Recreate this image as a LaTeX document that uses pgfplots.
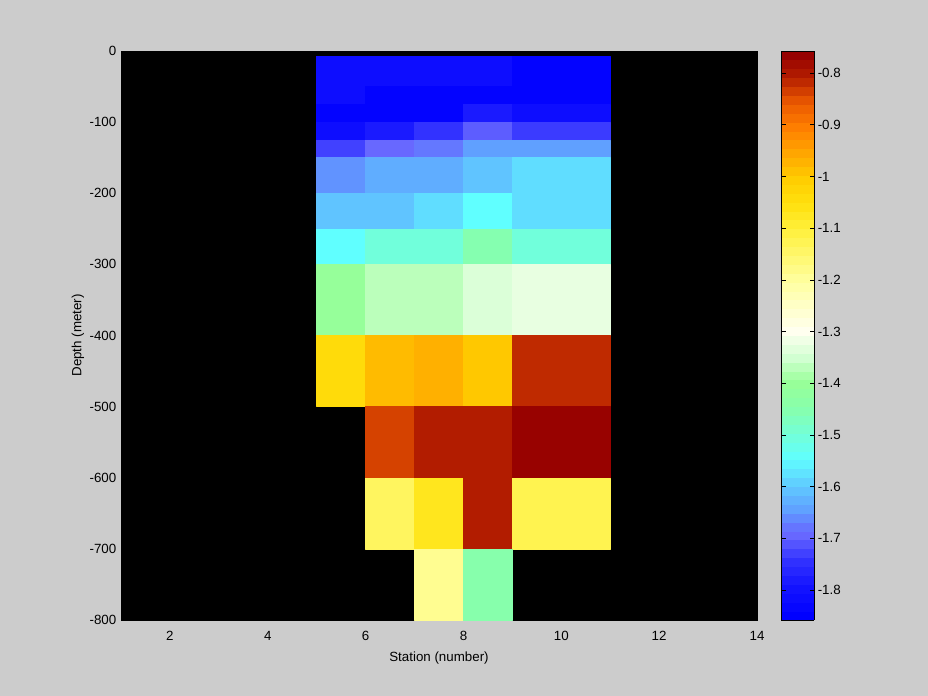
\documentclass[border=0pt]{standalone}
\usepackage{fontspec}
\setmainfont{Liberation Sans}
\usepackage{pgfplots}
\pgfplotsset{compat=1.18}
\definecolor{figbg}{RGB}{204,204,204}

\pgfplotsset{
  colormap={salt}{
    rgb255(0pt)=(0,0,255); rgb255(58pt)=(20,20,255); rgb255(108pt)=(50,50,255);
    rgb255(158pt)=(104,104,255); rgb255(178pt)=(100,120,255); rgb255(208pt)=(96,160,255);
    rgb255(258pt)=(96,205,255); rgb255(308pt)=(96,255,255); rgb255(358pt)=(115,255,215);
    rgb255(408pt)=(135,255,172); rgb255(458pt)=(152,255,152); rgb255(508pt)=(210,255,210);
    rgb255(558pt)=(255,255,240); rgb255(658pt)=(255,255,160); rgb255(758pt)=(255,240,60);
    rgb255(808pt)=(255,225,15); rgb255(858pt)=(255,205,0); rgb255(958pt)=(255,128,0);
    rgb255(1008pt)=(235,90,0); rgb255(1058pt)=(180,30,0); rgb255(1101pt)=(150,0,0)
  },
  colormap={saltbar}{samples of colormap=(64 of salt)},
}

\begin{document}
\begin{tikzpicture}
\fill[figbg] (0,0) rectangle (696pt,522pt);
\begin{axis}[
  at={(90.75pt,57pt)}, anchor=south west,
  scale only axis, width=477pt, height=426.75pt,
  xmin=1, xmax=14, ymin=-800, ymax=0,
  xtick={2,4,...,14}, ytick={-800,-700,...,0},
  axis background/.style={fill=black},
  axis line style={black}, major tick length=0pt,
  /pgf/number format/assume math mode=true,
  tick label style={font=\normalsize},
  xticklabel style={yshift=-5pt},
  every axis x label/.style={at={(axis description cs:0.5,0)}, anchor=center, yshift=-28.5pt},
  every axis y label/.style={at={(axis description cs:-0.0676,0.5)}, anchor=center, rotate=90},
  xlabel={Station (number)},
  ylabel={Depth (meter)},
  colormap name=salt,
  point meta min=-1.858, point meta max=-0.757,
  colorbar,
  colorbar style={
    at={(parent axis.south east)}, anchor=south west, xshift=9.75pt,
    scale only axis, width=24.75pt, height=426.75pt,
    colormap name=saltbar, colormap access=piecewise constant,
    ytick={-1.8,-1.7,-1.6,-1.5,-1.4,-1.3,-1.2,-1.1,-1,-0.9,-0.8},
    ytick pos=both, yticklabel pos=right,
    tick align=inside, major tick length=3.5pt,
    tick style={black, line width=0.6pt},
    axis line style={black, line width=0.6pt},
    yticklabel style={font=\normalsize, xshift=-1pt},
    /pgf/number format/assume math mode=true,
  },
]
\addplot[patch, patch type=rectangle, shader=faceted, faceted color=mapped color,
  line width=0.3pt, point meta=explicit] coordinates {
(5,-7)[-1.82] (6,-7)[-1.82] (6,-50)[-1.82] (5,-50)[-1.82]
(6,-7)[-1.82] (7,-7)[-1.82] (7,-50)[-1.82] (6,-50)[-1.82]
(7,-7)[-1.82] (8,-7)[-1.82] (8,-50)[-1.82] (7,-50)[-1.82]
(8,-7)[-1.82] (9,-7)[-1.82] (9,-50)[-1.82] (8,-50)[-1.82]
(9,-7)[-1.85] (11,-7)[-1.85] (11,-50)[-1.85] (9,-50)[-1.85]
(5,-50)[-1.82] (6,-50)[-1.82] (6,-75)[-1.82] (5,-75)[-1.82]
(6,-50)[-1.85] (7,-50)[-1.85] (7,-75)[-1.85] (6,-75)[-1.85]
(7,-50)[-1.85] (8,-50)[-1.85] (8,-75)[-1.85] (7,-75)[-1.85]
(8,-50)[-1.85] (9,-50)[-1.85] (9,-75)[-1.85] (8,-75)[-1.85]
(9,-50)[-1.85] (11,-50)[-1.85] (11,-75)[-1.85] (9,-75)[-1.85]
(5,-75)[-1.85] (6,-75)[-1.85] (6,-100)[-1.85] (5,-100)[-1.85]
(6,-75)[-1.85] (7,-75)[-1.85] (7,-100)[-1.85] (6,-100)[-1.85]
(7,-75)[-1.85] (8,-75)[-1.85] (8,-100)[-1.85] (7,-100)[-1.85]
(8,-75)[-1.79] (9,-75)[-1.79] (9,-100)[-1.79] (8,-100)[-1.79]
(9,-75)[-1.82] (11,-75)[-1.82] (11,-100)[-1.82] (9,-100)[-1.82]
(5,-100)[-1.82] (6,-100)[-1.82] (6,-125)[-1.82] (5,-125)[-1.82]
(6,-100)[-1.79] (7,-100)[-1.79] (7,-125)[-1.79] (6,-125)[-1.79]
(7,-100)[-1.75] (8,-100)[-1.75] (8,-125)[-1.75] (7,-125)[-1.75]
(8,-100)[-1.71] (9,-100)[-1.71] (9,-125)[-1.71] (8,-125)[-1.71]
(9,-100)[-1.742] (11,-100)[-1.742] (11,-125)[-1.742] (9,-125)[-1.742]
(5,-125)[-1.736] (6,-125)[-1.736] (6,-150)[-1.736] (5,-150)[-1.736]
(6,-125)[-1.70] (7,-125)[-1.70] (7,-150)[-1.70] (6,-150)[-1.70]
(7,-125)[-1.68] (8,-125)[-1.68] (8,-150)[-1.68] (7,-150)[-1.68]
(8,-125)[-1.65] (9,-125)[-1.65] (9,-150)[-1.65] (8,-150)[-1.65]
(9,-125)[-1.65] (11,-125)[-1.65] (11,-150)[-1.65] (9,-150)[-1.65]
(5,-150)[-1.66] (6,-150)[-1.66] (6,-200)[-1.66] (5,-200)[-1.66]
(6,-150)[-1.635] (7,-150)[-1.635] (7,-200)[-1.635] (6,-200)[-1.635]
(7,-150)[-1.635] (8,-150)[-1.635] (8,-200)[-1.635] (7,-200)[-1.635]
(8,-150)[-1.61] (9,-150)[-1.61] (9,-200)[-1.61] (8,-200)[-1.61]
(9,-150)[-1.584] (11,-150)[-1.584] (11,-200)[-1.584] (9,-200)[-1.584]
(5,-200)[-1.61] (6,-200)[-1.61] (6,-250)[-1.61] (5,-250)[-1.61]
(6,-200)[-1.61] (7,-200)[-1.61] (7,-250)[-1.61] (6,-250)[-1.61]
(7,-200)[-1.584] (8,-200)[-1.584] (8,-250)[-1.584] (7,-250)[-1.584]
(8,-200)[-1.55] (9,-200)[-1.55] (9,-250)[-1.55] (8,-250)[-1.55]
(9,-200)[-1.584] (11,-200)[-1.584] (11,-250)[-1.584] (9,-250)[-1.584]
(5,-250)[-1.55] (6,-250)[-1.55] (6,-300)[-1.55] (5,-300)[-1.55]
(6,-250)[-1.505] (7,-250)[-1.505] (7,-300)[-1.505] (6,-300)[-1.505]
(7,-250)[-1.505] (8,-250)[-1.505] (8,-300)[-1.505] (7,-300)[-1.505]
(8,-250)[-1.455] (9,-250)[-1.455] (9,-300)[-1.455] (8,-300)[-1.455]
(9,-250)[-1.505] (11,-250)[-1.505] (11,-300)[-1.505] (9,-300)[-1.505]
(5,-300)[-1.405] (6,-300)[-1.405] (6,-400)[-1.405] (5,-400)[-1.405]
(6,-300)[-1.37] (7,-300)[-1.37] (7,-400)[-1.37] (6,-400)[-1.37]
(7,-300)[-1.37] (8,-300)[-1.37] (8,-400)[-1.37] (7,-400)[-1.37]
(8,-300)[-1.34] (9,-300)[-1.34] (9,-400)[-1.34] (8,-400)[-1.34]
(9,-300)[-1.325] (11,-300)[-1.325] (11,-400)[-1.325] (9,-400)[-1.325]
(5,-400)[-1.035] (6,-400)[-1.035] (6,-500)[-1.035] (5,-500)[-1.035]
(6,-400)[-0.977] (7,-400)[-0.977] (7,-500)[-0.977] (6,-500)[-0.977]
(7,-400)[-0.962] (8,-400)[-0.962] (8,-500)[-0.962] (7,-500)[-0.962]
(8,-400)[-0.994] (9,-400)[-0.994] (9,-500)[-0.994] (8,-500)[-0.994]
(9,-400)[-0.81] (11,-400)[-0.81] (11,-500)[-0.81] (9,-500)[-0.81]
(6,-500)[-0.83] (7,-500)[-0.83] (7,-600)[-0.83] (6,-600)[-0.83]
(7,-500)[-0.797] (8,-500)[-0.797] (8,-600)[-0.797] (7,-600)[-0.797]
(8,-500)[-0.797] (9,-500)[-0.797] (9,-600)[-0.797] (8,-600)[-0.797]
(9,-500)[-0.76] (11,-500)[-0.76] (11,-600)[-0.76] (9,-600)[-0.76]
(6,-600)[-1.135] (7,-600)[-1.135] (7,-700)[-1.135] (6,-700)[-1.135]
(7,-600)[-1.067] (8,-600)[-1.067] (8,-700)[-1.067] (7,-700)[-1.067]
(8,-600)[-0.797] (9,-600)[-0.797] (9,-700)[-0.797] (8,-700)[-0.797]
(9,-600)[-1.12] (11,-600)[-1.12] (11,-700)[-1.12] (9,-700)[-1.12]
(7,-700)[-1.185] (8,-700)[-1.185] (8,-800)[-1.185] (7,-800)[-1.185]
(8,-700)[-1.45] (9,-700)[-1.45] (9,-800)[-1.45] (8,-800)[-1.45]
};
\end{axis}
\end{tikzpicture}
\end{document}
